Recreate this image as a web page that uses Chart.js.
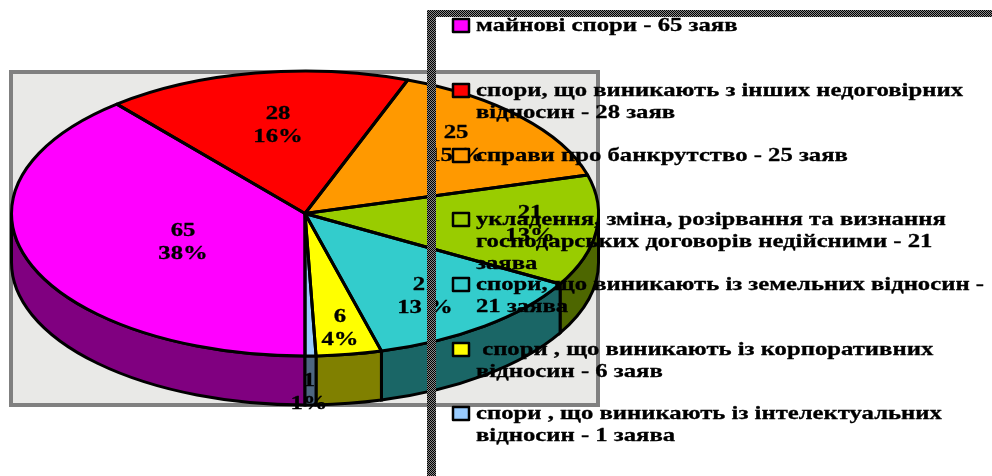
<!DOCTYPE html>
<html>
<head>
<meta charset="utf-8">
<title>Спори</title>
<style>
html, body { margin: 0; padding: 0; background: #fff; overflow: hidden; }
#wrap { width: 992px; height: 476px; position: relative; }
</style>
<script src="https://cdn.jsdelivr.net/npm/chart.js@4"></script>
</head>
<body>
<div id="wrap"><canvas id="chart" width="992" height="476"></canvas></div>
<script>
const cases = [65, 28, 25, 21, 21, 6, 1];
const percents = [38, 16, 15, 13, 13, 4, 1];
const percentGaps = ['%', '%', ' %', '%', ' %', '%', '%'];
const colors = ['#ff00ff', '#ff0000', '#ff9900', '#99cc00', '#33cccc', '#ffff00', '#99ccff'];
const legendLines = [
    ['майнові спори - 65 заяв'],
    ['спори, що виникають з інших недоговірних', 'відносин - 28 заяв'],
    ['справи про банкрутство - 25 заяв'],
    ['укладення, зміна, розірвання та визнання', 'господарських договорів недійсними - 21', 'заява'],
    ['спори, що виникають із земельних відносин -', '21 заява'],
    [' спори , що виникають із корпоративних', 'відносин - 6 заяв'],
    ['спори , що виникають із інтелектуальних', 'відносин - 1 заява']
];

// where the data labels sit, top line centre
const labelSpots = [[183, 231], [278, 114], [456, 133], [530, 213], [425, 285], [340, 317], [309, 381]];
const legendTops = [26, 91, 156, 220, 285, 350, 414];

const radiusX = 293.5;
const radiusY = 142.5;
const depth = 49;
const font = 'bold 19px "Liberation Serif"';
const stretch = 1.3;

function darker(hex) {
    const n = parseInt(hex.slice(1), 16);
    const half = v => Math.round(v / 2);
    return `rgb(${half(n >> 16)},${half((n >> 8) & 255)},${half(n & 255)})`;
}

function wideText(ctx, text, x, y, align) {
    ctx.save();
    ctx.translate(x, y);
    ctx.scale(stretch, 1);
    ctx.textAlign = align;
    ctx.textBaseline = 'middle';
    ctx.font = font;
    ctx.fillStyle = '#000';
    ctx.strokeStyle = '#000';
    ctx.lineWidth = 0.3;
    ctx.fillText(text, 0, 0);
    ctx.strokeText(text, 0, 0);
    ctx.restore();
}

function checker(ctx) {
    const tile = document.createElement('canvas');
    tile.width = 2;
    tile.height = 2;
    const t = tile.getContext('2d');
    t.fillStyle = '#888';
    t.fillRect(0, 0, 2, 2);
    t.fillStyle = '#000';
    t.fillRect(0, 0, 1, 1);
    t.fillRect(1, 1, 1, 1);
    return ctx.createPattern(tile, 'repeat');
}

const pie3d = {
    id: 'pie3d',
    beforeDatasetsDraw(chart) {
        const ctx = chart.ctx;
        const arcs = chart.getDatasetMeta(0).data;
        const cx = arcs[0].x;
        const cy = arcs[0].y;

        // grey plot frame
        ctx.fillStyle = '#e9e9e7';
        ctx.fillRect(9, 70, 591, 337);
        ctx.strokeStyle = '#808080';
        ctx.lineWidth = 4;
        ctx.strokeRect(11, 72, 587, 333);

        // side wall, only the front half of the ellipse shows
        arcs.forEach((arc, i) => {
            [[0, Math.PI], [2 * Math.PI, 3 * Math.PI]].forEach(([from, to]) => {
                const lo = Math.max(arc.startAngle, from);
                const hi = Math.min(arc.endAngle, to);
                if (lo >= hi) return;
                ctx.beginPath();
                ctx.ellipse(cx, cy, radiusX, radiusY, 0, lo, hi);
                ctx.ellipse(cx, cy + depth, radiusX, radiusY, 0, hi, lo, true);
                ctx.closePath();
                ctx.fillStyle = darker(colors[i]);
                ctx.fill();
                ctx.strokeStyle = '#000';
                ctx.lineWidth = 3;
                ctx.stroke();
            });
        });

        // squash the circle the library draws into the top ellipse
        ctx.save();
        ctx.translate(cx, cy);
        ctx.scale(1, radiusY / radiusX);
        ctx.translate(-cx, -cy);
    },
    afterDatasetsDraw(chart) {
        const ctx = chart.ctx;
        ctx.restore();
        const arcs = chart.getDatasetMeta(0).data;

        arcs.forEach(arc => {
            ctx.beginPath();
            ctx.moveTo(arc.x, arc.y);
            ctx.ellipse(arc.x, arc.y, radiusX, radiusY, 0, arc.startAngle, arc.endAngle);
            ctx.closePath();
            ctx.strokeStyle = '#000';
            ctx.lineWidth = 3;
            ctx.lineJoin = 'round';
            ctx.stroke();
        });

        cases.forEach((v, i) => {
            const [x, y] = labelSpots[i];
            wideText(ctx, String(v), x, y, 'center');
            wideText(ctx, percents[i] + percentGaps[i], x, y + 23.5, 'center');
        });

        // legend frame, open to the right and bottom
        ctx.fillStyle = checker(ctx);
        ctx.fillRect(427, 10, 565, 7);
        ctx.fillRect(427, 10, 9, 466);

        legendLines.forEach((lines, i) => {
            const top = legendTops[i];
            ctx.fillStyle = colors[i];
            ctx.fillRect(453, top - 7, 16, 13);
            ctx.strokeStyle = '#000';
            ctx.lineWidth = 2.5;
            ctx.strokeRect(453, top - 7, 16, 13);
            lines.forEach((line, j) => {
                wideText(ctx, line, 476, top + j * 22, 'left');
            });
        });
    }
};

new Chart(document.getElementById('chart'), {
    type: 'pie',
    data: {
        labels: legendLines.map(l => l.join(' ')),
        datasets: [{
            data: cases,
            backgroundColor: colors,
            borderWidth: 0,
            clip: false
        }]
    },
    options: {
        responsive: false,
        animation: false,
        rotation: 180,
        radius: radiusX,
        layout: { padding: { left: 11, right: 393, top: 0, bottom: 49 } },
        plugins: { legend: { display: false }, tooltip: { enabled: false } }
    },
    plugins: [pie3d]
});
</script>
</body>
</html>
